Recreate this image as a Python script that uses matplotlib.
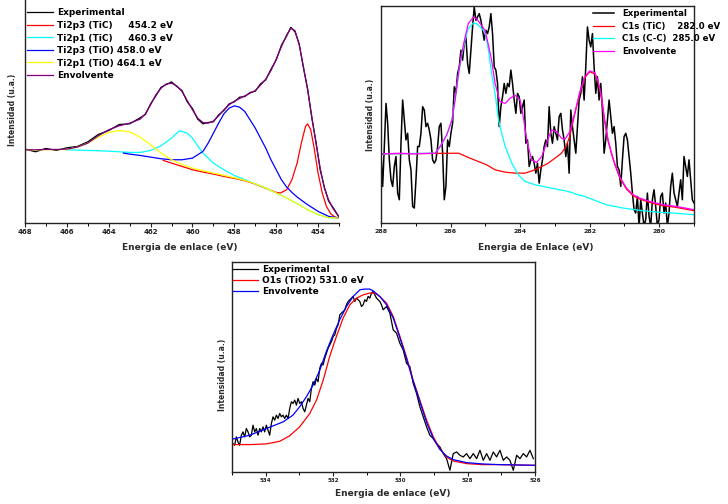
import numpy as np
import matplotlib
matplotlib.use('Agg')
import matplotlib.pyplot as plt
from matplotlib.ticker import MultipleLocator

plt.rcParams['font.family'] = ['DejaVu Sans']
plt.rcParams['font.weight'] = 'bold'

# ---------------- Ti 2p ----------------
ti_x = [468, 467.5, 467, 466.5, 466, 465.5, 465, 464.5, 464, 463.5, 463, 462.5, 462.25, 462,
        461.75, 461.5, 461.25, 461, 460.75, 460.5, 460.25, 460, 459.75, 459.5, 459.25, 459,
        458.75, 458.5, 458.25, 458, 457.75, 457.5, 457.25, 457, 456.75, 456.5, 456.25, 456,
        455.75, 455.5, 455.3, 455.1, 454.9, 454.7, 454.5, 454.3, 454.1, 453.9, 453.7, 453.5,
        453.3, 453.0]
ti_env = [220, 220, 221, 221, 222, 228, 240, 262, 280, 292, 300, 312, 328, 355, 385, 405, 418,
          420, 412, 395, 368, 340, 315, 302, 300, 306, 322, 340, 355, 366, 374, 382, 390, 398,
          414, 432, 458, 492, 530, 565, 585, 578, 535, 470, 400, 320, 240, 165, 105, 70, 45, 18]
ti_exp = [222, 214, 224, 218, 226, 230, 244, 266, 278, 296, 298, 316, 326, 358, 382, 408, 416,
          424, 410, 398, 364, 344, 312, 298, 302, 304, 325, 338, 358, 364, 378, 380, 392, 396,
          418, 430, 462, 490, 534, 562, 588, 574, 538, 466, 404, 316, 244, 160, 108, 66, 48, 18]

tic_p3_x = [461.4, 461, 460.5, 460, 459.5, 459, 458.5, 458, 457.5, 457, 456.5, 456, 455.8, 455.5,
            455.25, 455, 454.8, 454.6, 454.5, 454.35, 454.2, 454, 453.8, 453.6, 453.4, 453.2, 453]
tic_p3_y = [188, 180, 170, 160, 153, 147, 140, 134, 127, 117, 104, 92, 90, 100, 130, 180, 240,
            290, 298, 280, 230, 150, 90, 50, 28, 18, 15]

tic_p1_x = [466, 465, 464, 463, 462.5, 462, 461.5, 461, 460.75, 460.6, 460.25, 460, 459.75,
            459.5, 459, 458.5, 458, 457.5, 457, 456.5, 456, 455.5, 455, 454.5, 454, 453.5, 453]
tic_p1_y = [220, 218, 216, 212, 212, 218, 232, 255, 270, 277, 270, 255, 232, 210, 180, 160, 143,
            130, 118, 105, 90, 75, 58, 40, 25, 16, 15]

tio_p3_x = [463.3, 463, 462.5, 462, 461.5, 461, 460.5, 460, 459.5, 459.25, 459, 458.75, 458.5,
            458.25, 458, 457.75, 457.5, 457.25, 457, 456.75, 456.5, 456.25, 456, 455.75, 455.5,
            455.25, 455, 454.5, 454, 453.5, 453]
tio_p3_y = [210, 207, 203, 198, 193, 190, 190, 195, 215, 240, 270, 300, 328, 345, 352, 348, 335,
            310, 285, 255, 225, 190, 160, 130, 108, 92, 78, 55, 35, 20, 15]

tio_p1_x = [468, 467, 466, 465.5, 465, 464.5, 464, 463.5, 463, 462.5, 462, 461.5, 461, 460.5,
            460, 459.5, 459, 458.5, 458, 457.5, 457, 456.5, 456, 455.5, 455, 454.5, 454, 453.5, 453]
tio_p1_y = [220, 220, 221, 228, 240, 258, 272, 278, 274, 258, 235, 210, 190, 176, 165, 157, 150,
            143, 136, 128, 118, 105, 90, 75, 58, 40, 25, 16, 15]

ti_labels = ['Experimental', 'Ti2p3 (TiC)     454.2 eV', 'Ti2p1 (TiC)     460.3 eV',
             'Ti2p3 (TiO) 458.0 eV', 'Ti2p1 (TiO) 464.1 eV', 'Envolvente']

# ---------------- C 1s ----------------
c_exp = [210, 110, 230, 360, 300, 190, 130, 110, 170, 200,
         90, 70, 240, 370, 310, 250, 270, 190, 160, 50,
         45, 130, 230, 230, 270, 350, 340, 290, 300, 280,
         250, 190, 180, 190, 230, 290, 300, 210, 70, 110,
         250, 230, 270, 300, 410, 390, 450, 470, 520, 490,
         540, 560, 480, 450, 520, 590, 650, 610, 620, 630,
         610, 580, 550,
         580, 570, 590, 630, 570, 470, 460, 420, 290, 350,
         380, 420, 390, 420, 410, 460, 420, 370, 330, 390,
         380, 330, 350, 370, 240, 250, 170, 190, 200, 180,
         150, 180, 120, 160, 190, 230, 250, 230, 350, 270,
         240, 290, 270, 250, 320, 330, 280, 250, 200, 240,
         150, 340, 290, 250, 210, 290, 370, 390, 440, 370,
         470, 590, 550, 530,
         570, 470, 390, 440, 370, 420, 340, 210, 250, 310,
         370, 320, 270, 290, 240, 170, 160, 110, 190, 260,
         270, 250, 200, 150, 90, 40, 30, 80, -10, 70,
         30, -10, 10, 90, 20, -10, 70, 100, 50, -10,
         10, 80, 90, 30, 60, -10, 30, 110, 150, 90,
         70, 50, 90, 130, 70, 200, 170, 140, 190, 130,
         70, 60]
c_exp_x = np.linspace(288.0, 279.0, len(c_exp))

c_env_x = [288.00, 287.45, 287.06, 286.44, 286.30, 286.11, 285.96, 285.87, 285.77, 285.68,
           285.58, 285.49, 285.34, 285.25, 285.15, 285.01, 284.91, 284.82, 284.72, 284.58,
           284.43, 284.29, 284.15, 284.00, 283.91, 283.81, 283.67, 283.53, 283.38, 283.24,
           283.10, 282.95, 282.81, 282.71, 282.57, 282.43, 282.28, 282.14, 282.00, 281.85,
           281.76, 281.66, 281.57, 281.47, 281.37, 281.28, 281.14, 280.94, 280.75, 280.56,
           280.28, 279.89, 279.51, 279.00]
c_env = [208, 210, 208, 210, 230, 265, 310, 370, 450, 510, 560, 600, 620, 615, 600, 580, 535,
         490, 420, 365, 360, 375, 385, 370, 320, 250, 190, 182, 200, 240, 280, 275, 255, 252,
         275, 330, 395, 440, 458, 452, 428, 380, 310, 250, 210, 180, 140, 105, 85, 75, 65, 55,
         50, 40]

c_cc_x = [288.00, 286.44, 286.30, 286.11, 285.96, 285.87, 285.77, 285.68, 285.58, 285.49,
          285.34, 285.25, 285.15, 285.01, 284.91, 284.82, 284.72, 284.62, 284.53, 284.43,
          284.24, 284.05, 283.86, 283.57, 283.10, 282.62, 282.33, 282.14, 281.95, 281.52,
          281.04, 280.56, 280.08, 279.61, 279.00]
c_cc = [208, 210, 230, 265, 310, 370, 450, 505, 552, 585, 602, 600, 590, 575, 520, 450, 390, 310,
        270, 230, 180, 145, 125, 115, 105, 95, 85, 80, 72, 55, 45, 38, 33, 30, 25]

c_tic_x = [288.00, 285.77, 285.44, 284.96, 284.72, 284.43, 284.15, 283.86, 283.57, 283.38,
           283.19, 283.00, 282.81, 282.67, 282.57, 282.43, 282.28, 282.14, 282.00, 281.85,
           281.76, 281.66, 281.57, 281.47, 281.37, 281.28, 281.14, 280.94, 280.75, 280.56,
           280.28, 279.89, 279.51, 279.00]
c_tic = [208, 210, 195, 175, 160, 153, 150, 150, 160, 170, 180, 195, 210, 232, 262, 328, 392, 437,
         455, 449, 425, 377, 307, 247, 207, 177, 137, 102, 82, 72, 62, 52, 47, 37]

c_labels = ['Experimental', 'C1s (TiC)    282.0 eV', 'C1s (C-C)  285.0 eV', 'Envolvente']

# ---------------- O 1s ----------------
o_exp_a = [90, 75, 85, 80, 105, 90, 80, 110, 120, 105,
           130, 120, 105, 110, 140, 120, 130, 110, 130, 120,
           135, 120, 140, 125, 110, 145, 165, 155, 170, 160,
           175, 165, 170, 160, 170, 160, 190, 210, 205, 215,
           200, 220, 205, 210, 190, 180, 200, 220, 210, 250,
           270, 260, 280, 270, 310, 325, 320, 340, 355, 370,
           380, 390, 405, 410, 430, 440, 470, 475, 480, 485,
           500, 510, 515, 520, 525, 510, 520, 515, 510, 495,
           500, 515, 510, 525, 520, 535, 540, 530, 520, 515,
           510, 500, 485]
o_exp_b = [495, 475, 425, 415, 385, 365, 325, 315, 265, 235,
           195, 165, 135, 110, 100, 85, 75, 55, 40, 5,
           55, 60, 50, 45, 55, 40, 55, 40, 65, 35,
           55, 35, 60, 45, 65, 35, 45, 35, 5, 50,
           40, 55, 45, 65, 40]
o_exp_x = np.concatenate([np.linspace(535.07, 530.51, len(o_exp_a)),
                          np.linspace(530.41, 526.05, len(o_exp_b))])
o_exp = o_exp_a + o_exp_b

o_tio2_x = [535.00, 534.47, 533.98, 533.58, 533.29, 532.99, 532.69, 532.49, 532.29, 532.10,
            531.90, 531.70, 531.50, 531.30, 531.10, 530.91, 530.76, 530.61, 530.41, 530.21,
            530.01, 529.82, 529.62, 529.42, 529.22, 529.02, 528.83, 528.63, 528.43, 528.03,
            527.54, 527.04, 526.00]
o_tio2 = [82, 82, 84, 92, 108, 135, 175, 215, 275, 345, 405, 460, 500, 520, 530, 535, 535, 525,
          505, 465, 405, 345, 275, 215, 155, 105, 70, 45, 33, 25, 22, 22, 20]

o_env_x = [535.00, 534.47, 533.98, 533.48, 533.19, 532.99, 532.79, 532.59, 532.39, 532.20,
           532.00, 531.80, 531.60, 531.40, 531.20, 531.06, 530.91, 530.81, 530.61, 530.41,
           530.21, 530.01, 529.82, 529.62, 529.42, 529.22, 529.02, 528.83, 528.63, 528.43,
           528.03, 527.54, 527.04, 526.00]
o_env = [98, 110, 130, 150, 170, 195, 225, 260, 305, 360, 410, 455, 495, 525, 545, 547, 547, 542,
         525, 500, 460, 400, 340, 272, 210, 148, 100, 68, 48, 37, 28, 24, 22, 20]

o_labels = ['Experimental', 'O1s (TiO2) 531.0 eV', 'Envolvente']

W, H = 728, 504
fig = plt.figure(figsize=(W / 100, H / 100), dpi=100)


def make_ax(l, t, r, b):
    return fig.add_axes([l / W, 1 - b / H, (r - l) / W, (b - t) / H])


def style(ax, xlim, ylim, majors, lsize):
    ax.set_xlim(*xlim)
    ax.set_ylim(*ylim)
    ax.set_xticks(majors)
    ax.set_xticklabels([str(m) for m in majors])
    ax.xaxis.set_minor_locator(MultipleLocator(1))
    ax.set_yticks([])
    ax.tick_params(axis='x', which='major', direction='out', length=3, width=0.8,
                   labelsize=lsize, pad=1.5, colors='#222222')
    ax.tick_params(axis='x', which='minor', direction='out', length=2, width=0.7)
    for s in ax.spines.values():
        s.set_linewidth(1.0)
        s.set_color('#222222')


lw = 0.9

# panel 1
ax1 = make_ax(25, 0, 339, 223)
h1 = ax1.plot(ti_x, ti_exp, color='black', lw=lw)
h2 = ax1.plot(tic_p3_x, tic_p3_y, color='red', lw=lw)
h3 = ax1.plot(tic_p1_x, tic_p1_y, color='cyan', lw=lw)
h4 = ax1.plot(tio_p3_x, tio_p3_y, color='blue', lw=lw)
h5 = ax1.plot(tio_p1_x, tio_p1_y, color='yellow', lw=lw)
h6 = ax1.plot(ti_x, ti_env, color='purple', lw=lw)
style(ax1, (468, 453), (0, 670), list(range(468, 453, -2)), 5)
ax1.spines['top'].set_visible(False)
ax1.spines['right'].set_visible(False)
ax1.legend(h1 + h2 + h3 + h4 + h5 + h6, ti_labels, loc='upper left',
           bbox_to_anchor=(0.006, 0.962), frameon=False, fontsize=6.5, borderpad=0,
           borderaxespad=0, handlelength=2.9, handletextpad=0.45, labelspacing=0.39)

# panel 2
ax2 = make_ax(381, 6, 694, 223)
g1 = ax2.plot(c_exp_x, c_exp, color='black', lw=1.1)
g2 = ax2.plot(c_tic_x, c_tic, color='red', lw=lw)
g3 = ax2.plot(c_cc_x, c_cc, color='cyan', lw=lw)
g4 = ax2.plot(c_env_x, c_env, color='magenta', lw=lw)
style(ax2, (288, 279), (0, 653), list(range(288, 279, -2)), 4.5)
ax2.legend(g1 + g2 + g3 + g4, c_labels, loc='upper left',
           bbox_to_anchor=(0.677, 0.985), frameon=False, fontsize=6.2, borderpad=0,
           borderaxespad=0, handlelength=2.4, handletextpad=1.0, labelspacing=0.42)

# panel 3
ax3 = make_ax(232, 262, 535, 472)
k1 = ax3.plot(o_exp_x, o_exp, color='black', lw=lw)
k2 = ax3.plot(o_tio2_x, o_tio2, color='red', lw=lw)
k3 = ax3.plot(o_env_x, o_env, color='blue', lw=lw)
style(ax3, (535, 526), (0, 628), list(range(534, 525, -2)), 4)
ax3.legend(k1 + k2 + k3, o_labels, loc='upper left',
           bbox_to_anchor=(0.003, 0.985), frameon=False, fontsize=6.5, borderpad=0,
           borderaxespad=0, handlelength=2.8, handletextpad=0.45, labelspacing=0.24)

# axis titles
lab = dict(fontsize=6.5, color='#2a2a2a', ha='center', va='center')
fig.text(180 / W, 1 - 248 / H, 'Energia de enlace (eV)', **lab)
fig.text(536 / W, 1 - 248 / H, 'Energia de Enlace (eV)', **lab)
fig.text(393 / W, 1 - 493 / H, 'Energia de enlace (eV)', **lab)
ylab = dict(fontsize=5.5, color='#2a2a2a', ha='center', va='center', rotation=90)
fig.text(13 / W, 1 - 110 / H, 'Intensidad (u.a.)', **ylab)
fig.text(370 / W, 1 - 115 / H, 'Intensidad (u.a.)', **ylab)
fig.text(222 / W, 1 - 375 / H, 'Intensidad (u.a.)', **ylab)

fig.savefig('out.png', dpi=100)
